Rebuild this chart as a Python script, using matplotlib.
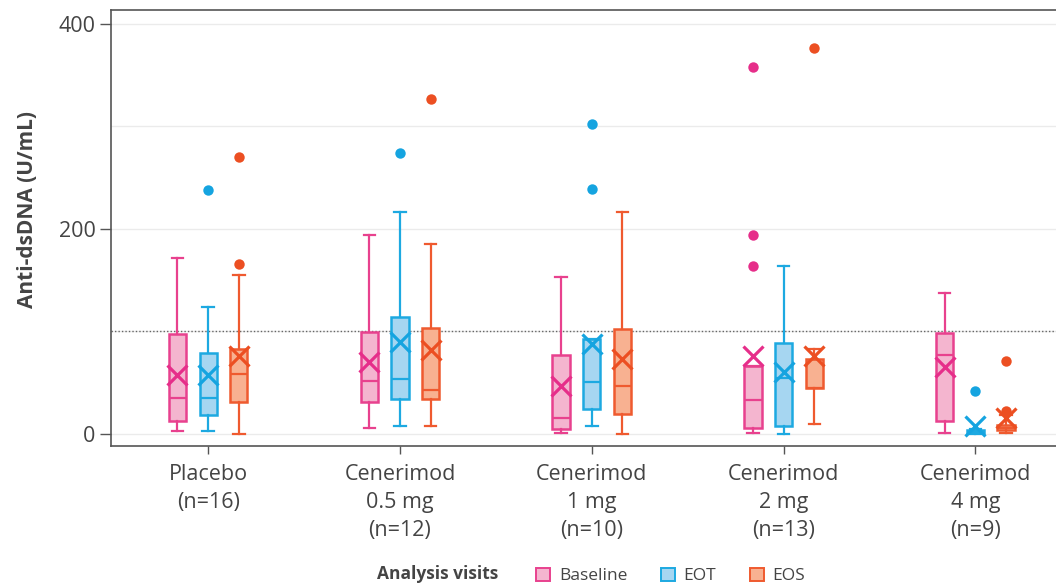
import matplotlib.pyplot as plt
from matplotlib.patches import Patch

plt.rcParams['font.family'] = ['Open Sans', 'DejaVu Sans']

# Groups and visits
groups = ["Placebo\n(n=16)", "Cenerimod\n0.5 mg\n(n=12)", "Cenerimod\n1 mg\n(n=10)",
          "Cenerimod\n2 mg\n(n=13)", "Cenerimod\n4 mg\n(n=9)"]
visits = ["Baseline", "EOT", "EOS"]

# Box statistics (U/mL), one list per visit, one value per group
baseline_whislo = [3, 5.6, 0.4, 0.7, 0.4]
baseline_q1 = [12.4, 30.6, 4.3, 5.3, 12]
baseline_med = [34.5, 51, 15.6, 32.9, 77]
baseline_q3 = [97.6, 99, 76.8, 66.3, 98.5]
baseline_whishi = [172, 194, 152.6, 66.3, 137.6]
baseline_mean = [57.6, 69.7, 46.5, 75.8, 65.4]
baseline_fliers = [[], [], [], [358.4, 194.5, 163.9], []]

eot_whislo = [3, 7.2, 7.2, 0, 0]
eot_q1 = [18.2, 33.9, 23.8, 7.5, 0.5]
eot_med = [34.5, 53.7, 50.7, 54, 2]
eot_q3 = [79, 113.6, 92.4, 88.8, 4]
eot_whishi = [124, 216.6, 92.4, 163.9, 5]
eot_mean = [57.6, 89.5, 87.2, 60.5, 8]
eot_fliers = [[237.5], [274], [302.8, 238.7], [], [42]]

eos_whislo = [0, 7.5, 0, 9.8, 0.4]
eos_q1 = [30.6, 34.2, 18.9, 44.3, 3.6]
eos_med = [58, 43, 46.8, 44.3, 5.5]
eos_q3 = [82.3, 103, 102, 72.9, 8.5]
eos_whishi = [155, 185, 216.6, 82.6, 18]
eos_mean = [75.8, 82, 72.6, 75.8, 15]
eos_fliers = [[270.6, 166], [327], [], [376.6], [71.2, 22.4]]

reference_level = 100

edge_colors = ["#E8418E", "#1DA9E1", "#EF5A2F"]
fill_colors = ["#F4B5CF", "#A6D6F1", "#F8B191"]
mean_colors = ["#E62E8A", "#15A4E0", "#EC4F22"]

series = [
    (baseline_whislo, baseline_q1, baseline_med, baseline_q3, baseline_whishi, baseline_mean, baseline_fliers),
    (eot_whislo, eot_q1, eot_med, eot_q3, eot_whishi, eot_mean, eot_fliers),
    (eos_whislo, eos_q1, eos_med, eos_q3, eos_whishi, eos_mean, eos_fliers),
]

fig = plt.figure(figsize=(10.56, 5.87), dpi=100)
ax = fig.add_axes([0.105, 0.2402, 0.895, 0.7433])

offsets = [-0.16, 0.0, 0.16]
grey = "#555555"
text_grey = "#444444"

for k, (wlo, q1, med, q3, whi, mean, fl) in enumerate(series):
    stats = []
    for i in range(len(groups)):
        stats.append(dict(whislo=wlo[i], q1=q1[i], med=med[i], q3=q3[i],
                          whishi=whi[i], mean=mean[i], fliers=fl[i]))
    pos = [i + offsets[k] for i in range(len(groups))]
    ec = edge_colors[k]
    ax.bxp(stats, positions=pos, widths=0.09, patch_artist=True, showmeans=True,
           manage_ticks=False, capwidths=0.06,
           boxprops=dict(facecolor=fill_colors[k], edgecolor=ec, linewidth=1.8),
           medianprops=dict(color=ec, linewidth=1.6),
           whiskerprops=dict(color=ec, linewidth=1.6),
           capprops=dict(color=ec, linewidth=1.6),
           meanprops=dict(marker='x', markeredgecolor=mean_colors[k], markersize=14,
                          markeredgewidth=2.3),
           flierprops=dict(marker='o', markerfacecolor=mean_colors[k],
                           markeredgecolor='none', markersize=7.5),
           zorder=3)

# Reference line and grid
ax.axhline(reference_level, color="#666666", linestyle=(0, (1, 1.5)), linewidth=1, zorder=2)
for g in [0, 100, 200, 300, 400]:
    ax.axhline(g, color="#EBEBEB", linewidth=1, zorder=1)

ax.set_xlim(-0.507, 4.42)
ax.set_ylim(-12, 414)
ax.set_yticks([0, 200, 400])
ax.set_xticks(range(len(groups)))
ax.set_xticklabels(groups, fontsize=15.5, color=text_grey, linespacing=1.45)
ax.tick_params(axis='y', labelsize=15.5, labelcolor=text_grey, color=grey, length=8, width=1, pad=3)
ax.tick_params(axis='x', color=grey, length=6, width=1, pad=7)
ax.set_ylabel("Anti-dsDNA (U/mL)", fontsize=15, fontweight='bold', color=text_grey)
ax.yaxis.set_label_coords(-0.077, 0.543)

for side in ['left', 'top', 'bottom']:
    ax.spines[side].set_color(grey)
    ax.spines[side].set_linewidth(1.2)
ax.spines['right'].set_visible(False)

# Legend
fig.text(0.357, 0.026, "Analysis visits", fontsize=12.5, fontweight='bold', color=text_grey,
         va='center_baseline')
handles = [Patch(facecolor=fill_colors[k], edgecolor=edge_colors[k], linewidth=1.4, label=visits[k])
           for k in range(3)]
fig.legend(handles=handles, loc='center left', bbox_to_anchor=(0.493, 0.019), ncol=3, frameon=False,
           fontsize=12.5, handlelength=0.8, handleheight=0.8, handletextpad=0.5, columnspacing=1.95,
           labelcolor=text_grey)

fig.savefig("out.png", dpi=100)
